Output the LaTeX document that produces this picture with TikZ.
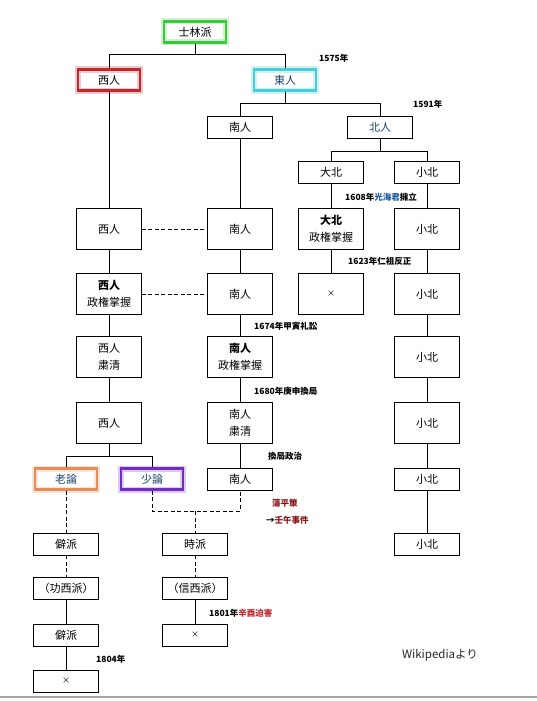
\documentclass[tikz,border=0pt]{standalone}
\usepackage{fontspec}
\newfontfamily\jp{Noto Sans CJK JP}
\usepackage{xcolor}
\definecolor{slpgreen}{RGB}{60,200,60}
\definecolor{xired}{RGB}{195,40,45}
\definecolor{dongcyan}{RGB}{70,205,215}
\definecolor{nolorange}{RGB}{230,140,90}
\definecolor{solpurple}{RGB}{115,45,190}
\definecolor{navytxt}{RGB}{25,65,105}
\definecolor{evtred}{RGB}{140,20,20}
\definecolor{kingblue}{RGB}{30,90,160}
\usetikzlibrary{positioning,calc}

\begin{document}
\begin{tikzpicture}[
    x=1pt, y=-1pt,
    box/.style={
      rectangle, draw=black, line width=0.8pt,
      minimum width=65pt, minimum height=22pt, inner sep=0pt,
      align=center, font=\jp\fontsize{11}{17}\selectfont
    },
    tall/.style={box, minimum height=41pt},
    glow/.style={
      box, draw=#1, line width=2.6pt,
      minimum width=62pt, minimum height=21pt,
      preaction={draw=#1!25, line width=6pt}
    },
    yr/.style={
      anchor=west, inner sep=0pt,
      font=\jp\bfseries\fontsize{8.5}{9}\selectfont
    },
    link/.style={line width=0.8pt},
    dlink/.style={link, dash pattern=on 4pt off 2.5pt}
  ]

  \useasboundingbox (0,0) rectangle (537,701);

  %% Root and first split
  \node[glow=slpgreen] (slp) at (195,32) {士林派};
  \node[glow=xired] (xi1) at (109,80) {西人};
  \node[glow=dongcyan, text=navytxt] (dong) at (285,80) {東人};

  %% Second split
  \node[box] (nam1) at (240,127) {南人};
  \node[box, text=navytxt] (buk) at (380,127) {北人};
  \node[box] (dbuk) at (331,172) {大北};
  \node[box] (sbuk1) at (427,172) {小北};

  %% Middle rows
  \node[tall] (xi2) at (109,229) {西人};
  \node[tall] (nam2) at (240,229) {南人};
  \node[tall] (dbuk2) at (331,229) {\textbf{大北}\\政権掌握};
  \node[tall] (sbuk2) at (427,229) {小北};

  \node[tall] (xi3) at (109,294) {\textbf{西人}\\政権掌握};
  \node[tall] (nam3) at (240,294) {南人};
  \node[tall] (dbx) at (331,294) {\fontsize{8}{9}\selectfont ×};
  \node[tall] (sbuk3) at (427,294) {小北};

  \node[tall] (xi4) at (109,357) {西人\\粛清};
  \node[tall] (nam4) at (240,357) {\textbf{南人}\\政権掌握};
  \node[tall] (sbuk4) at (427,357) {小北};

  \node[tall] (xi5) at (109,423) {西人};
  \node[tall] (nam5) at (240,423) {南人\\粛清};
  \node[tall] (sbuk5) at (427,423) {小北};

  %% Noron / Soron
  \node[glow=nolorange, text=navytxt] (nol) at (66,479) {老論};
  \node[glow=solpurple, text=navytxt] (sol) at (152,479) {少論};
  \node[box] (nam6) at (240,479) {南人};
  \node[box] (sbuk6) at (427,479) {小北};

  \node[box] (byeok1) at (66,544) {僻派};
  \node[box] (si) at (195,544) {時派};
  \node[box] (sbuk7) at (427,544) {小北};

  \node[box] (gongseo) at (66,588) {（功西派）};
  \node[box] (sinseo) at (195,588) {（信西派）};

  \node[box] (byeok2) at (66,635) {僻派};
  \node[box] (six) at (195,635) {\fontsize{8}{9}\selectfont ×};

  \node[box] (byx) at (66,681) {\fontsize{8}{9}\selectfont ×};

  %% Tree connectors
  \draw[link] (slp.south) -- ++(0,11) -| (xi1.north);
  \draw[link] (slp.south) -- ++(0,11) -| (dong.north);
  \draw[link] (dong.south) -- ++(0,12) -| (nam1.north);
  \draw[link] (dong.south) -- ++(0,12) -| (buk.north);
  \draw[link] (buk.south) -- ++(0,13) -| (dbuk.north);
  \draw[link] (buk.south) -- ++(0,13) -| (sbuk1.north);
  \draw[link] (xi5.south) -- ++(0,12) -| (nol.north);
  \draw[link] (xi5.south) -- ++(0,12) -| (sol.north);

  %% Columns
  \draw[link] (xi1) -- (xi2);
  \draw[link] (xi2) -- (xi3);
  \draw[link] (xi3) -- (xi4);
  \draw[link] (xi4) -- (xi5);
  \draw[link] (nam1) -- (nam2);
  \draw[link] (nam2) -- (nam3);
  \draw[link] (nam3) -- (nam4);
  \draw[link] (nam4) -- (nam5);
  \draw[link] (nam5) -- (nam6);
  \draw[link] (dbuk) -- (dbuk2);
  \draw[link] (dbuk2) -- (dbx);
  \draw[link] (sbuk1) -- (sbuk2);
  \draw[link] (sbuk2) -- (sbuk3);
  \draw[link] (sbuk3) -- (sbuk4);
  \draw[link] (sbuk4) -- (sbuk5);
  \draw[link] (sbuk5) -- (sbuk6);
  \draw[link] (sbuk6) -- (sbuk7);

  %% Dashed links
  \draw[dlink] (xi2) -- (nam2);
  \draw[dlink] (xi3) -- (nam3);
  \coordinate (join) at (195,511);
  \draw[dlink] (sol.south) |- (join) -| (nam6.south);
  \draw[dlink] (join) -- (si.north);
  \draw[dlink] (si) -- (sinseo);
  \draw[dlink] (nol) -- (byeok1);
  \draw[dlink] (byeok1) -- (gongseo);
  \draw[link] (gongseo) -- (byeok2);
  \draw[link] (byeok2) -- (byx);
  \draw[link] (sinseo) -- (six);

  %% Year labels
  \node[yr] (y1575) at (319,58) {1575年};
  \node[yr] (y1591) at (413,104) {1591年};
  \node[yr] (y1608) at (345,197) {1608年\textcolor{kingblue}{光海君}擁立};
  \node[yr] (y1623) at (348,261) {1623年仁祖反正};
  \node[yr] (y1674) at (254,326) {1674年甲寅礼訟};
  \node[yr] (y1680) at (254,391) {1680年庚申換局};
  \node[yr] (hwan) at (268,456) {換局政治};
  \node[yr, text=evtred] (tang) at (272,503) {蕩平策};
  \node[yr] (imo) at (266,520) {→\textcolor{evtred}{壬午事件}};
  \node[yr] (y1801) at (209,613) {1801年\textcolor{xired}{辛酉迫害}};
  \node[yr] (y1804) at (96,659) {1804年};

  %% Source
  \node[font=\jp\fontsize{11.5}{12}\selectfont, text=black!85] (src) at (440,655) {Wikipediaより};
  \draw[gray!70, line width=1.5pt] (0,697) -- (537,697);

\end{tikzpicture}
\end{document}
